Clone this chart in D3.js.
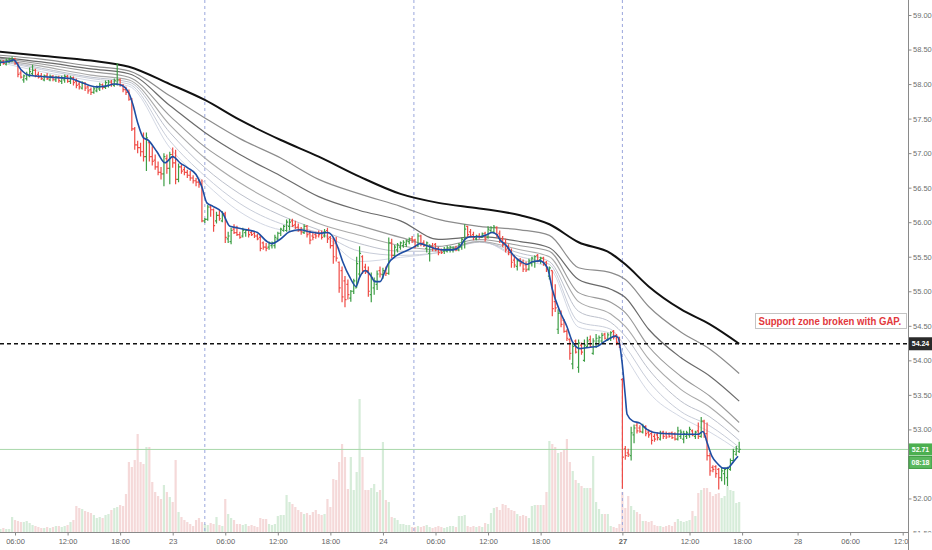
<!DOCTYPE html>
<html>
<head>
<meta charset="utf-8">
<script src="https://cdnjs.cloudflare.com/ajax/libs/d3/7.8.5/d3.min.js"></script>
<style>
  body { margin: 0; background: #fff; }
  svg { display: block; }
</style>
</head>
<body>
<svg width="932" height="550"></svg>
<script>
// ---- bars (one per 20 min), index 0 = first bar on the 22nd ----
var opens = [
  58.25,58.28,58.33,58.29,58.32,58.34,58.37,58.30,58.16,58.06,
  58.08,58.12,58.15,58.20,58.14,58.12,58.06,58.12,58.06,58.11,
  58.06,58.10,58.04,58.06,58.11,58.04,58.09,58.04,58.00,57.94,
  58.01,57.96,57.92,57.88,57.90,57.93,57.99,57.95,57.98,58.03,
  57.98,58.00,58.06,57.98,57.92,57.88,57.78,57.35,57.12,57.08,
  57.02,56.95,57.15,56.95,56.90,56.80,56.72,56.70,56.92,56.78,
  56.98,56.86,56.62,56.80,56.76,56.72,56.68,56.64,56.60,56.58,
  56.55,56.02,56.04,56.22,56.18,56.02,56.10,56.02,56.12,55.76,
  55.72,55.90,55.85,55.82,55.80,55.85,55.88,55.85,55.84,55.80,
  55.78,55.70,55.64,55.64,55.66,55.66,55.76,55.84,55.88,55.88,
  55.94,56.02,55.96,55.93,55.88,55.85,55.94,55.84,55.80,55.82,
  55.84,55.84,55.80,55.88,55.78,55.66,55.70,55.42,55.30,55.15,
  55.10,54.90,55.00,55.05,55.25,55.50,55.35,55.30,54.95,55.05,
  55.10,55.30,55.24,55.30,55.26,55.70,55.52,55.60,55.64,55.66,
  55.68,55.72,55.76,55.74,55.66,55.80,55.70,55.62,55.55,55.65,
  55.68,55.62,55.60,55.58,55.58,55.60,55.60,55.62,55.60,55.64,
  55.72,55.94,55.86,55.82,55.76,55.80,55.78,55.84,55.78,55.88,
  55.86,55.92,55.84,55.76,55.70,55.62,55.56,55.45,55.36,55.44,
  55.42,55.38,55.32,55.40,55.42,55.52,55.46,55.48,55.42,55.22,
  55.30,54.85,54.45,54.70,54.58,54.42,54.30,53.95,54.28,53.90,
  54.22,54.00,54.20,54.30,54.10,54.20,54.28,54.28,54.38,54.30,
  54.32,54.42,54.36,54.30,53.72,52.72,52.66,52.62,52.92,53.06,
  53.02,52.96,53.04,52.96,52.94,52.90,52.92,52.86,52.96,52.94,
  52.94,52.95,52.94,52.86,52.90,52.86,52.90,52.92,52.98,52.90,
  52.98,52.90,53.12,52.94,52.62,52.45,52.46,52.42,52.30,52.36,
  52.30,52.42,52.55,52.64,52.68
];
var highs = [
  58.33,58.35,58.35,58.37,58.38,58.40,58.38,58.32,58.20,58.14,
  58.18,58.24,58.28,58.22,58.18,58.16,58.14,58.16,58.14,58.13,
  58.12,58.12,58.12,58.14,58.13,58.12,58.11,58.08,58.04,58.04,
  58.03,57.98,57.95,57.96,57.98,58.02,58.01,58.05,58.06,58.06,
  58.08,58.30,58.08,58.00,57.96,57.92,57.80,57.38,57.18,57.15,
  57.30,57.30,57.16,57.10,56.98,56.88,56.80,57.00,56.98,57.02,
  57.08,57.05,56.85,56.83,56.80,56.76,56.74,56.68,56.64,56.62,
  56.62,56.06,56.25,56.25,56.20,56.15,56.18,56.16,56.15,55.86,
  55.92,55.97,55.95,55.86,55.92,55.90,55.92,55.88,55.87,55.83,
  55.82,55.72,55.70,55.72,55.72,55.82,55.86,55.92,55.96,56.04,
  56.05,56.05,56.02,55.98,55.93,55.97,55.96,55.88,55.86,55.86,
  55.88,55.88,55.90,55.92,55.80,55.78,55.79,55.43,55.36,55.22,
  55.17,55.02,55.18,55.50,55.65,55.52,55.40,55.36,55.27,55.20,
  55.30,55.36,55.34,55.36,55.78,55.76,55.67,55.70,55.72,55.74,
  55.75,55.78,55.80,55.76,55.84,55.82,55.74,55.72,55.68,55.70,
  55.70,55.64,55.62,55.64,55.66,55.66,55.65,55.66,55.70,55.78,
  55.97,55.95,55.90,55.86,55.82,55.84,55.85,55.86,55.94,55.94,
  55.96,55.94,55.88,55.80,55.76,55.68,55.62,55.52,55.46,55.48,
  55.46,55.43,55.47,55.50,55.52,55.54,55.50,55.50,55.44,55.36,
  55.30,55.10,54.74,54.72,54.60,54.45,54.32,54.26,54.30,54.30,
  54.26,54.30,54.34,54.36,54.32,54.38,54.36,54.40,54.40,54.40,
  54.42,54.44,54.38,54.34,53.74,52.76,52.72,53.04,53.07,53.10,
  53.06,53.08,53.06,53.00,52.98,52.94,52.96,52.98,52.98,52.97,
  52.96,52.97,52.96,53.04,53.00,52.98,52.98,53.04,53.00,52.98,
  53.10,53.18,53.14,53.10,52.66,52.48,52.48,52.44,52.44,52.44,
  52.46,52.58,52.72,52.76,52.82
];
var lows = [
  58.22,58.26,58.28,58.27,58.30,58.32,58.28,58.10,58.08,58.02,
  58.05,58.10,58.12,58.10,58.08,58.06,58.04,58.06,58.04,58.04,
  58.03,58.02,58.00,58.02,58.02,58.00,57.98,57.94,57.92,57.92,
  57.90,57.86,57.84,57.86,57.88,57.90,57.92,57.93,57.95,57.96,
  57.96,57.98,57.96,57.88,57.84,57.76,57.32,57.05,57.00,56.95,
  56.88,56.74,56.88,56.82,56.76,56.68,56.62,56.52,56.70,56.55,
  56.79,56.55,56.58,56.70,56.68,56.64,56.60,56.56,56.52,56.50,
  56.00,55.99,56.02,56.08,55.86,55.98,56.02,56.00,55.70,55.70,
  55.68,55.83,55.80,55.76,55.78,55.79,55.78,55.80,55.77,55.74,
  55.58,55.60,55.58,55.60,55.62,55.62,55.74,55.80,55.86,55.86,
  55.88,55.93,55.90,55.86,55.82,55.83,55.78,55.68,55.74,55.76,
  55.78,55.75,55.78,55.70,55.62,55.40,55.43,54.98,54.84,54.77,
  54.88,54.85,54.96,55.05,55.20,55.25,55.25,54.92,54.84,54.95,
  55.02,55.20,55.18,55.22,55.24,55.48,55.50,55.56,55.60,55.63,
  55.64,55.68,55.70,55.62,55.64,55.65,55.64,55.56,55.43,55.58,
  55.58,55.52,55.54,55.54,55.56,55.56,55.56,55.58,55.58,55.60,
  55.62,55.78,55.78,55.74,55.74,55.76,55.77,55.72,55.76,55.84,
  55.84,55.78,55.70,55.64,55.56,55.52,55.34,55.34,55.30,55.36,
  55.28,55.28,55.30,55.36,55.34,55.42,55.40,55.37,55.28,55.17,
  54.64,54.70,54.38,54.48,54.40,54.28,54.01,53.87,54.10,53.82,
  54.08,53.98,54.18,54.18,54.08,54.18,54.22,54.24,54.30,54.28,
  54.28,54.30,54.22,54.18,52.14,52.56,52.60,52.55,52.80,52.94,
  52.95,52.94,52.90,52.88,52.78,52.82,52.84,52.84,52.86,52.86,
  52.88,52.86,52.84,52.84,52.86,52.80,52.86,52.88,52.90,52.86,
  52.86,52.88,52.88,52.55,52.33,52.38,52.30,52.13,52.25,52.20,
  52.18,52.40,52.52,52.62,52.66
];
var closes = [
  58.30,58.32,58.30,58.34,58.36,58.37,58.30,58.14,58.10,58.12,
  58.14,58.18,58.20,58.12,58.10,58.08,58.12,58.08,58.11,58.07,
  58.10,58.05,58.09,58.11,58.04,58.09,58.02,57.98,57.96,58.01,
  57.94,57.90,57.88,57.93,57.95,57.99,57.95,58.02,58.03,58.00,
  58.05,58.06,57.98,57.92,57.88,57.78,57.35,57.12,57.08,57.02,
  56.95,57.22,56.95,56.88,56.80,56.72,56.70,56.95,56.78,56.98,
  56.86,56.62,56.80,56.74,56.72,56.68,56.64,56.60,56.58,56.55,
  56.02,56.04,56.22,56.18,55.95,56.10,56.05,56.12,55.78,55.80,
  55.88,55.85,55.82,55.78,55.88,55.88,55.82,55.82,55.80,55.76,
  55.62,55.64,55.62,55.70,55.70,55.78,55.84,55.90,55.94,56.00,
  56.00,55.95,55.92,55.88,55.86,55.94,55.82,55.74,55.78,55.80,
  55.82,55.78,55.86,55.76,55.66,55.50,55.48,55.05,54.92,54.88,
  54.95,55.00,55.15,55.40,55.55,55.30,55.28,55.00,55.20,55.15,
  55.25,55.25,55.30,55.26,55.70,55.52,55.64,55.67,55.70,55.71,
  55.73,55.76,55.74,55.66,55.80,55.68,55.66,55.70,55.65,55.62,
  55.60,55.56,55.56,55.60,55.63,55.64,55.62,55.60,55.68,55.75,
  55.90,55.82,55.80,55.78,55.80,55.78,55.83,55.76,55.90,55.92,
  55.93,55.82,55.74,55.68,55.60,55.56,55.42,55.38,55.44,55.40,
  55.32,55.31,55.44,55.48,55.50,55.44,55.48,55.40,55.32,55.34,
  54.75,54.76,54.68,54.52,54.42,54.32,54.10,54.20,54.12,54.25,
  54.12,54.22,54.28,54.20,54.28,54.32,54.33,54.36,54.32,54.37,
  54.40,54.34,54.26,54.22,52.60,52.62,52.64,52.95,53.02,52.98,
  52.97,53.04,52.94,52.92,52.84,52.86,52.88,52.94,52.90,52.89,
  52.90,52.88,52.86,52.98,52.96,52.94,52.95,53.00,52.92,52.96,
  52.90,53.12,52.94,52.62,52.40,52.42,52.36,52.30,52.40,52.42,
  52.44,52.55,52.68,52.72,52.71
];
var volumes = [
  3,3,4,3,3,15,12,11,10,10,
  11,9,7,6,5,4,4,5,4,5,
  6,6,5,6,7,10,12,26,24,23,
  21,20,19,17,14,15,14,17,18,22,
  24,25,27,26,38,70,65,72,98,70,
  68,85,85,50,40,36,33,47,40,35,
  30,72,20,15,12,10,8,6,12,14,
  10,8,7,9,8,15,7,6,33,18,
  14,12,8,8,7,8,6,7,6,5,
  14,13,13,8,7,8,16,17,17,37,
  30,28,25,22,20,18,19,17,20,22,
  18,17,18,33,25,53,52,70,88,75,
  43,75,42,60,133,75,42,42,44,48,
  40,42,90,32,30,15,14,12,8,8,
  7,7,5,5,6,5,6,7,5,4,
  5,6,5,4,5,6,6,5,16,16,
  17,6,5,6,5,6,5,9,8,19,
  24,25,22,28,27,24,22,21,18,16,
  17,16,14,26,27,27,27,27,40,91,
  88,85,79,80,82,93,70,61,52,49,
  46,44,44,44,76,30,23,18,18,18,
  6,5,4,8,40,24,36,26,22,20,
  18,11,11,10,11,7,6,6,5,6,
  7,6,10,13,11,10,11,12,21,16,
  39,42,44,44,40,36,38,39,34,36,
  46,42,41,29,30
];

// ---- moving-average ribbon, read at these bar indexes ----
var ribbonIdx = [0,15,32,45,59,71,83,97,110,124,138,151,165,179,189,199,210,215,223,234,244,254];
var maSlow = [58.47,58.41,58.34,58.25,58.00,57.77,57.48,57.19,56.95,56.66,56.41,56.28,56.20,56.10,55.97,55.71,55.55,55.39,55.07,54.74,54.52,54.24];
var ma1 = [58.42,58.36,58.26,58.19,57.83,57.51,57.21,56.93,56.62,56.41,56.23,56.04,55.94,55.89,55.81,55.34,55.27,55.17,54.78,54.41,54.16,53.81];
var ma2 = [58.39,58.32,58.22,58.15,57.69,57.30,56.98,56.67,56.37,56.17,56.02,55.75,55.79,55.72,55.63,55.17,55.03,54.91,54.45,54.04,53.77,53.41];
var ma3 = [58.38,58.29,58.18,58.10,57.54,57.09,56.76,56.43,56.12,55.95,55.78,55.65,55.75,55.66,55.58,54.98,54.84,54.69,54.20,53.77,53.48,53.10];
var ma4 = [58.36,58.26,58.13,58.06,57.41,56.93,56.57,56.24,55.98,55.81,55.66,55.60,55.72,55.60,55.50,54.85,54.67,54.49,54.02,53.58,53.32,52.96];
var ma5 = [58.35,58.23,58.10,58.03,57.30,56.79,56.41,56.10,55.89,55.69,55.58,55.58,55.71,55.55,55.43,54.71,54.55,54.35,53.87,53.41,53.18,52.84];
var ma6 = [58.34,58.21,58.08,58.00,57.18,56.67,56.27,55.98,55.85,55.58,55.52,55.56,55.72,55.50,55.39,54.56,54.45,54.20,53.70,53.26,53.05,52.74];
var ma7 = [58.32,58.18,58.05,57.97,57.08,56.57,56.15,55.89,55.84,55.43,55.49,55.56,55.73,55.46,55.34,54.48,54.39,54.06,53.54,53.18,52.96,52.69];

// fast average (blue), [bar index, price]
var fastMa = [
  [0,58.31],[4,58.33],[5.5,58.35],[8,58.21],[10.5,58.13],[18,58.10],[25,58.08],[29,58.02],
  [34,57.96],[37,57.97],[40,58.00],[42,57.99],[45,57.87],[46.4,57.70],[48,57.44],[50,57.22],
  [51.5,57.19],[54.6,57.02],[57.4,56.86],[60,56.95],[62.5,56.86],[65,56.79],[68,56.69],[70,56.51],
  [71.7,56.28],[73.8,56.23],[77,56.14],[79.6,55.94],[82,55.92],[85.4,55.89],[89,55.85],[92.3,55.72],
  [94,55.69],[96.7,55.75],[100,55.86],[103.6,55.89],[107,55.86],[110.4,55.84],[113,55.85],[115,55.78],
  [116.6,55.63],[118.3,55.42],[120.7,55.20],[122.8,55.07],[124,55.20],[126,55.30],[127.6,55.24],
  [129.3,55.14],[131,55.14],[132.7,55.29],[133.7,55.39],[136.8,55.52],[140.2,55.59],[143,55.65],
  [144.7,55.69],[147,55.66],[149,55.63],[152.6,55.60],[156,55.60],[158.4,55.65],[160,55.75],
  [161.8,55.79],[165.2,55.79],[167.6,55.82],[169.3,55.85],[171,55.82],[172,55.75],[174.5,55.65],
  [176.5,55.53],[179.6,55.42],[181.3,55.39],[183.4,55.43],[185.8,55.44],[187.5,55.39],[188.5,55.32],
  [190,55.03],[192.6,54.71],[195,54.49],[197,54.26],[199.5,54.17],[203,54.19],[205.3,54.20],
  [207.4,54.26],[209.8,54.32],[211.5,54.35],[212.5,54.33],[213.9,53.97],[215,53.48],[215.6,53.22],
  [217.6,53.12],[220,53.09],[222.4,53.00],[224.5,52.96],[228,52.94],[235,52.93],[240,52.93],
  [241.6,52.97],[243,52.81],[244.7,52.61],[246.7,52.50],[248.5,52.44],[250,52.44],[252,52.53],[253.6,52.61]
];

// ---- axes and levels ----
// 52.50 sits under the last-price tags, so it is not labelled
var priceTicks = [59, 58.5, 58, 57.5, 57, 56.5, 56, 55.5, 55, 54.5, 54, 53.5, 53, 52, 51.5];
var timeTickIdx = [6, 24, 42, 60, 78, 96, 114, 132, 150, 168, 186, 214, 237, 255, 274, 292, 310];
var timeTickLabels = ["06:00","12:00","18:00","23","06:00","12:00","18:00","24","06:00","12:00","18:00","27","12:00","18:00","28","06:00","12:00"];
var sessionBreaks = [71, 142.6, 214];
var supportLevel = 54.24;
var lastPrice = 52.71;
var countdown = "08:18";
var note = "Support zone broken with GAP.";

var svg = d3.select("svg"),
    plotRight = 908,
    plotBottom = 532,
    font = "'Liberation Sans', Arial, sans-serif";

var x = d3.scaleLinear().domain([0, 310]).range([-2.5, 902.7]),
    y = d3.scaleLinear().domain([51.5, 59]).range([533, 15]),
    yVol = d3.scaleLinear().domain([0, 133]).range([plotBottom, 399]);

// clip rects are in the local space of the group that uses them
var defs = svg.append("defs");
defs.append("clipPath").attr("id", "plotClip")
  .append("rect").attr("x", 0).attr("y", 0).attr("width", plotRight).attr("height", plotBottom);
defs.append("clipPath").attr("id", "timeClip")
  .append("rect").attr("x", 0).attr("y", 0).attr("width", plotRight).attr("height", 18);
defs.append("clipPath").attr("id", "priceClip")
  .append("rect").attr("x", 0).attr("y", 0).attr("width", 24).attr("height", plotBottom + 0.5);

var plot = svg.append("g").attr("clip-path", "url(#plotClip)");

var idx = d3.range(closes.length);
function up(i) { return closes[i] >= opens[i]; }

// volume
plot.append("g").selectAll("rect")
  .data(idx)
  .enter().append("rect")
    .attr("x", function(i) { return x(i) - 1.1; })
    .attr("width", 2.2)
    .attr("y", function(i) { return yVol(volumes[i]); })
    .attr("height", function(i) { return plotBottom - yVol(volumes[i]); })
    .attr("fill", function(i) { return up(i) ? "#d6ecd9" : "#f5d9d9"; });

// session breaks
plot.append("g").selectAll("line")
  .data(sessionBreaks)
  .enter().append("line")
    .attr("x1", function(d) { return x(d); })
    .attr("x2", function(d) { return x(d); })
    .attr("y1", 0).attr("y2", plotBottom)
    .attr("stroke", "#9aa6dc")
    .attr("stroke-width", 1)
    .attr("stroke-dasharray", "3,3");

// last price line
plot.append("line")
  .attr("x1", 0).attr("x2", plotRight)
  .attr("y1", y(lastPrice)).attr("y2", y(lastPrice))
  .attr("stroke", "#a8d8aa").attr("stroke-width", 1);

// ribbon
var ribbon = [
  {values: ma7, color: "#d3d8e4", width: 1},
  {values: ma6, color: "#c8cdd9", width: 1},
  {values: ma5, color: "#bcc0cb", width: 1},
  {values: ma4, color: "#aaaaaa", width: 1.1},
  {values: ma3, color: "#999999", width: 1.1},
  {values: ma2, color: "#6a6a6a", width: 1.2},
  {values: ma1, color: "#8c8c8c", width: 1.2},
  {values: maSlow, color: "#111111", width: 2}
];
var maLine = d3.line()
    .x(function(d, i) { return x(ribbonIdx[i]); })
    .y(function(d) { return y(d); })
    .curve(d3.curveMonotoneX);

plot.append("g").selectAll("path")
  .data(ribbon)
  .enter().append("path")
    .attr("d", function(d) { return maLine(d.values); })
    .attr("fill", "none")
    .attr("stroke", function(d) { return d.color; })
    .attr("stroke-width", function(d) { return d.width; });

// OHLC bars
plot.append("g").selectAll("path")
  .data(idx)
  .enter().append("path")
    .attr("d", function(i) {
      var cx = x(i);
      return "M" + cx + "," + y(highs[i]) + "V" + y(lows[i]) +
             "M" + (cx - 1.5) + "," + y(opens[i]) + "H" + cx +
             "M" + cx + "," + y(closes[i]) + "H" + (cx + 1.5);
    })
    .attr("fill", "none")
    .attr("stroke", function(i) { return up(i) ? "#3d9e45" : "#ef4b45"; })
    .attr("stroke-width", 1.2);

// fast average
plot.append("path")
  .attr("d", d3.line()
      .x(function(d) { return x(d[0]); })
      .y(function(d) { return y(d[1]); })
      .curve(d3.curveMonotoneX)(fastMa))
  .attr("fill", "none")
  .attr("stroke", "#1f4ea3")
  .attr("stroke-width", 1.6);

// support level
plot.append("line")
  .attr("x1", 0).attr("x2", plotRight)
  .attr("y1", y(supportLevel)).attr("y2", y(supportLevel))
  .attr("stroke", "#111").attr("stroke-width", 1.6)
  .attr("stroke-dasharray", "4,3");

// note box, text squeezed to the box width
var noteG = svg.append("g");
noteG.append("rect")
  .attr("x", 755.5).attr("y", 313.5)
  .attr("width", 151).attr("height", 15)
  .attr("fill", "#fff").attr("stroke", "#c4c4c4");
var noteText = noteG.append("g")
  .append("text")
  .attr("fill", "#e2383c")
  .style("font", "bold 11.5px " + font)
  .text(note);
var tw = noteText.node().getComputedTextLength() || 143;
d3.select(noteText.node().parentNode)
  .attr("transform", "translate(758.5,325.2) scale(" + (143 / tw) + ",1)");

// price axis
svg.append("line")
  .attr("x1", plotRight + 0.5).attr("x2", plotRight + 0.5)
  .attr("y1", 0).attr("y2", 550)
  .attr("stroke", "#8a8a8a");

var yAxis = svg.append("g")
  .attr("transform", "translate(" + (plotRight + 0.5) + ",0)")
  .attr("clip-path", "url(#priceClip)")
  .call(d3.axisRight(y).tickValues(priceTicks).tickFormat(d3.format(".2f")).tickSize(3).tickPadding(1.5));
yAxis.select(".domain").remove();
yAxis.selectAll("line").attr("stroke", "#8a8a8a");
yAxis.selectAll("text").attr("fill", "#6f6f6f").style("font", "7.5px " + font);

// time axis
svg.append("line")
  .attr("x1", 0).attr("x2", plotRight)
  .attr("y1", plotBottom + 0.5).attr("y2", plotBottom + 0.5)
  .attr("stroke", "#8a8a8a");

var xAxis = svg.append("g")
  .attr("transform", "translate(0," + (plotBottom + 0.5) + ")")
  .attr("clip-path", "url(#timeClip)")
  .call(d3.axisBottom(x).tickValues(timeTickIdx)
    .tickFormat(function(d, i) { return timeTickLabels[i]; })
    .tickSize(3).tickPadding(3));
xAxis.select(".domain").remove();
xAxis.selectAll("line").attr("stroke", "#8a8a8a");
xAxis.selectAll("text").attr("fill", "#5f5f5f").style("font", "7.5px " + font)
  .style("font-weight", function(d, i) { return timeTickLabels[i] === "27" ? "bold" : "normal"; });

// value tags on the price axis
function tag(yy, h, bg, label, stroke) {
  var g = svg.append("g");
  g.append("rect")
    .attr("x", plotRight + 1).attr("y", yy - h / 2)
    .attr("width", 23).attr("height", h)
    .attr("fill", bg).attr("stroke", stroke || "none");
  g.append("text")
    .attr("x", plotRight + 12.5).attr("y", yy + 2.5)
    .attr("text-anchor", "middle")
    .attr("fill", "#fff")
    .style("font", "bold 7px " + font)
    .text(label);
}
tag(y(supportLevel), 13, "#2a2a2a", d3.format(".2f")(supportLevel));
tag(y(lastPrice), 12, "#4caf50", d3.format(".2f")(lastPrice));
tag(y(lastPrice) + 13, 12, "#5bb85f", countdown, "#3e9a42");
</script>
</body>
</html>
